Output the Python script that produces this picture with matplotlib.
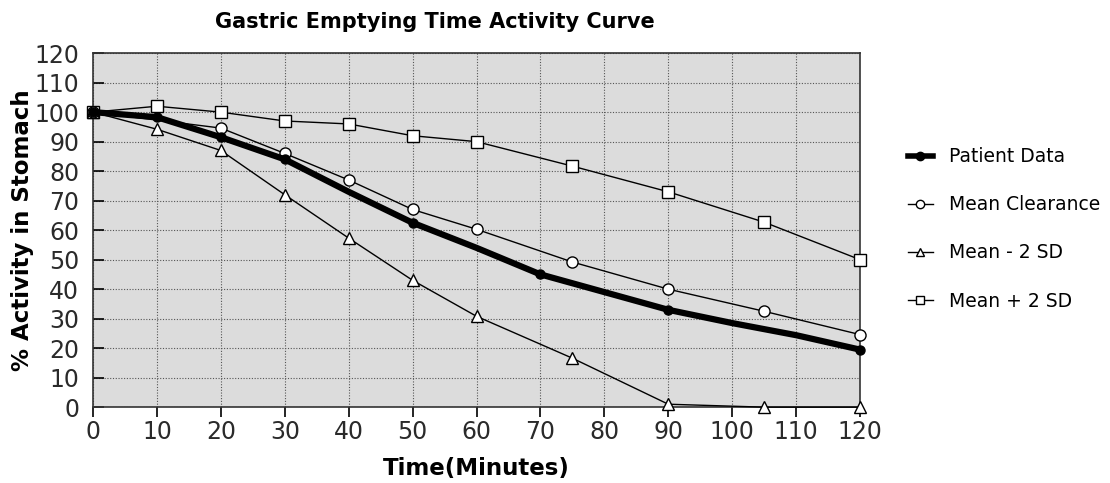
import matplotlib
matplotlib.use("Agg")
import matplotlib.pyplot as plt
from matplotlib.lines import Line2D

# Time axis (minutes) and % activity remaining in the stomach
patient_t = [0, 10, 20, 30, 40, 50, 60, 70, 80, 90, 100, 110, 120]
patient_pct = [100, 98.3, 91.5, 84, 73, 62.5, 54, 45, 39, 33, 28.5, 24.4, 19.5]
patient_marker_t = [0, 10, 20, 30, 50, 70, 90, 120]

mean_t = [0, 20, 30, 40, 50, 60, 75, 90, 105, 120]
mean_pct = [100, 94.6, 86, 77, 67, 60.3, 49.2, 40, 32.5, 24.6]

low_t = [0, 10, 20, 30, 40, 50, 60, 75, 90, 105, 120]
low_pct = [100, 94.2, 87, 72, 57.3, 43, 30.8, 16.6, 1, 0, 0]

high_t = [0, 10, 20, 30, 40, 50, 60, 75, 90, 105, 120]
high_pct = [100, 102, 100, 97, 96, 92, 90, 81.7, 73, 62.7, 50]

x_ticks = list(range(0, 121, 10))
y_ticks = list(range(0, 121, 10))

fig = plt.figure(figsize=(11.1, 4.83), dpi=100)
ax = fig.add_axes([0.0838, 0.157, 0.691, 0.733])
ax.set_facecolor("#dcdcdc")

ax.grid(True, color="#555555", linestyle=(0, (1, 1.5)), linewidth=0.8)
ax.set_axisbelow(True)

# reference bands first, patient curve on top
ax.plot(high_t, high_pct, color="black", lw=1.0, marker="s", ms=9,
        mfc="white", mec="black", mew=1.0, clip_on=False, zorder=3)
ax.plot(low_t, low_pct, color="black", lw=1.0, marker="^", ms=8,
        mfc="white", mec="black", mew=1.0, clip_on=False, zorder=3)
ax.plot(mean_t, mean_pct, color="black", lw=1.0, marker="o", ms=8,
        mfc="white", mec="black", mew=1.0, clip_on=False, zorder=3)
ax.plot(patient_t, patient_pct, color="black", lw=4.5, zorder=4,
        solid_joinstyle="round", clip_on=False)
ax.plot(patient_marker_t,
        [patient_pct[patient_t.index(t)] for t in patient_marker_t],
        ls="none", marker="o", ms=6.5, color="black", zorder=5, clip_on=False)

ax.set_xlim(0, 120)
ax.set_ylim(0, 120)
ax.set_xticks(x_ticks)
ax.set_yticks(y_ticks)
ax.tick_params(axis="y", direction="in", length=8, width=1.2, labelsize=17, pad=10)
ax.tick_params(axis="x", direction="out", length=7, width=1.2, labelsize=17, pad=2)
for tl in ax.get_xticklabels() + ax.get_yticklabels():
    tl.set_color("#2a2a2a")
for sp in ax.spines.values():
    sp.set_color("#333333")
    sp.set_linewidth(1.2)

ax.set_xlabel("Time(Minutes)", fontsize=16.5, fontweight="bold")
ax.set_ylabel("% Activity in Stomach", fontsize=16.5, fontweight="bold")
ax.xaxis.set_label_coords(0.5, -0.142)
ax.yaxis.set_label_coords(-0.077, 0.5)
fig.text(0.392, 0.954, "Gastric Emptying Time Activity Curve", ha="center",
         va="center", fontsize=15, fontweight="bold")

handles = [
    Line2D([], [], color="black", lw=4, marker="o", ms=6),
    Line2D([], [], color="black", lw=1, marker="o", ms=6, mfc="white"),
    Line2D([], [], color="black", lw=1, marker="^", ms=6, mfc="white"),
    Line2D([], [], color="black", lw=1, marker="s", ms=6, mfc="white"),
]
labels = ["Patient Data", "Mean Clearance", "Mean - 2 SD", "Mean + 2 SD"]
fig.legend(handles, labels, loc="center left", bbox_to_anchor=(0.803, 0.526),
           frameon=False, fontsize=13.5, handlelength=1.3, labelspacing=1.55,
           handletextpad=0.9)

fig.savefig("out.png", dpi=100, facecolor="white")
